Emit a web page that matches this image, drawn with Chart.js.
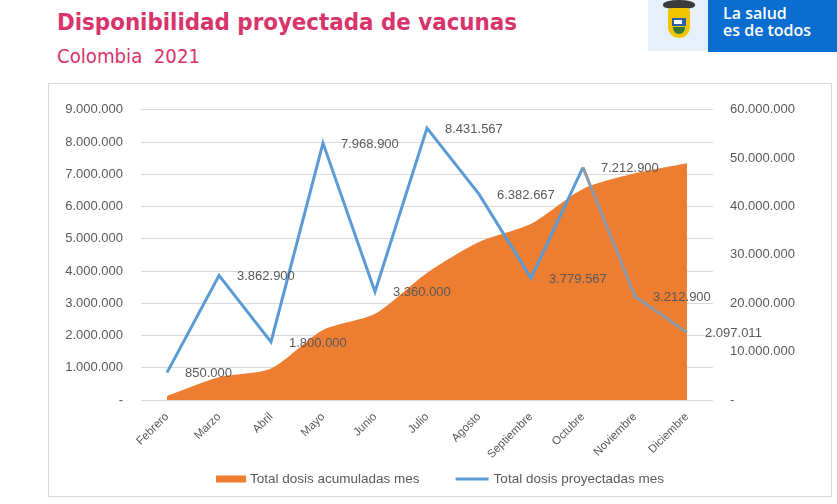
<!DOCTYPE html>
<html>
<head>
<meta charset="utf-8">
<script src="https://cdn.jsdelivr.net/npm/chart.js@4/dist/chart.umd.min.js"></script>
<style>
  html,body{margin:0;padding:0;background:#fff;width:837px;height:504px;overflow:hidden;}
  #title{position:absolute;left:57px;top:11px;line-height:23px;font-family:"Liberation Sans Narrow","DejaVu Sans Condensed","Liberation Sans",sans-serif;font-weight:bold;font-size:23px;color:#D8336A;white-space:nowrap;transform-origin:0 0;}
  #sub{position:absolute;left:57px;top:44px;font-family:"Liberation Sans Narrow","DejaVu Sans Condensed","Liberation Sans",sans-serif;font-size:20px;color:#D8336A;white-space:pre;transform-origin:0 0;}
  #emb{position:absolute;left:648px;top:0;width:60px;height:51px;background:#E6F0FA;}
  #shield{position:absolute;left:20px;top:8px;width:22px;height:30px;background:#F2C500;border-radius:4px 4px 11px 11px;}
  #shield .b{position:absolute;left:4px;top:10px;width:14px;height:8px;background:#2E5DA8;}
  #shield .r{position:absolute;left:6px;top:12px;width:8px;height:4px;background:#fff;}
  #shield .g{position:absolute;left:5px;top:19px;width:12px;height:7px;background:#2F7A3A;border-radius:0 0 6px 6px;}
  #bird{position:absolute;left:15px;top:0;width:32px;height:9px;background:#3b3b3b;border-radius:50% 50% 40% 40%;}
  #brand{position:absolute;left:708px;top:0;width:129px;height:52px;background:#0A6ED1;color:#fff;font-family:"Open Sans","Liberation Sans",sans-serif;font-weight:600;font-size:16px;line-height:17px;}
  #brand div{position:absolute;left:15px;top:5px;white-space:nowrap;}
  #box{position:absolute;left:48px;top:83px;width:782px;height:412px;border:1px solid #D9D9D9;}
  canvas{display:block;}
</style>
</head>
<body>
<div id="title">Disponibilidad proyectada de vacunas</div>
<div id="sub">Colombia  2021</div>
<div id="emb"><div id="bird"></div><div id="shield"><div class="b"></div><div class="r"></div><div class="g"></div></div></div>
<div id="brand"><div>La salud<br>es de todos</div></div>
<div id="box"><canvas id="c" width="782" height="412"></canvas></div>
<script>
const months = ["Febrero","Marzo","Abril","Mayo","Junio","Julio","Agosto","Septiembre","Octubre","Noviembre","Diciembre"];
const projectedMonthly = [850000, 3862900, 1800000, 7968900, 3360000, 8431567, 6382667, 3779567, 7212900, 3212900, 2097011];
const accumulated = [850000, 4712900, 6512900, 14481800, 17841800, 26273367, 32656034, 36435601, 43648501, 46861401, 48958412];
const leftTicks = [0, 1000000, 2000000, 3000000, 4000000, 5000000, 6000000, 7000000, 8000000, 9000000];
const rightTicks = [0, 10000000, 20000000, 30000000, 40000000, 50000000, 60000000];
const seriesNames = ["Total dosis acumuladas mes", "Total dosis proyectadas mes"];

(function fitText(){
  const t = document.getElementById('title');
  const w = t.getBoundingClientRect().width;
  t.style.transform = 'scaleX(' + (460 / w) + ')';
  const s = document.getElementById('sub');
  const ws = s.getBoundingClientRect().width;
  s.style.transform = 'scaleX(' + (143 / ws) + ')';
})();

function fmt(v){
  if (v === 0) return '-';
  return String(Math.round(v)).replace(/\B(?=(\d{3})+(?!\d))/g, '.');
}

const BLUE = '#5B9BD5', GRAYLINE = '#8E9AA8', ORANGE = '#ED7D31', TXT = '#595959';
const FONT = '"Liberation Sans", Arial, sans-serif';

const labelPlugin = {
  id: 'pointLabels',
  afterDatasetsDraw(chart){
    const meta = chart.getDatasetMeta(1);
    const ctx = chart.ctx;
    ctx.save();
    ctx.font = '13px ' + FONT;
    ctx.fillStyle = TXT;
    ctx.textAlign = 'left';
    ctx.textBaseline = 'middle';
    meta.data.forEach((pt, i) => {
      ctx.fillText(fmt(projectedMonthly[i]), pt.x + 18, pt.y + 1);
    });
    ctx.restore();
  }
};

const legendPlugin = {
  id: 'customLegend',
  afterDraw(chart){
    const ctx = chart.ctx;
    const ds = chart.data.datasets;
    ctx.save();
    ctx.font = '13.5px ' + FONT;
    ctx.textBaseline = 'middle';
    ctx.textAlign = 'left';
    const w1 = ctx.measureText(ds[0].label).width;
    const w2 = ctx.measureText(ds[1].label).width;
    const total = 30 + 4 + w1 + 36 + 33 + 5 + w2;
    let x = chart.width / 2 - total / 2;
    const y = chart.height - 17;
    ctx.fillStyle = ds[0].backgroundColor;
    ctx.fillRect(x, y - 3.5, 30, 7);
    x += 34;
    ctx.fillStyle = TXT;
    ctx.fillText(ds[0].label, x, y);
    x += w1 + 36;
    ctx.strokeStyle = ds[1].borderColor;
    ctx.lineWidth = 3;
    ctx.beginPath();
    ctx.moveTo(x, y);
    ctx.lineTo(x + 33, y);
    ctx.stroke();
    x += 38;
    ctx.fillText(ds[1].label, x, y);
    ctx.restore();
  }
};

new Chart(document.getElementById('c'), {
  type: 'line',
  data: {
    labels: months,
    datasets: [
      {
        label: seriesNames[0],
        data: accumulated,
        yAxisID: 'y1',
        fill: 'origin',
        backgroundColor: ORANGE,
        borderColor: ORANGE,
        borderWidth: 0,
        pointRadius: 0,
        tension: 0.25,
        order: 1
      },
      {
        label: seriesNames[1],
        data: projectedMonthly,
        yAxisID: 'y',
        fill: false,
        borderColor: BLUE,
        backgroundColor: BLUE,
        borderWidth: 3,
        pointRadius: 0,
        tension: 0,
        order: 0,
        segment: {
          borderColor: ctx => (ctx.p0DataIndex >= 8 ? GRAYLINE : BLUE)
        }
      }
    ]
  },
  options: {
    responsive: false,
    animation: false,
    events: [],
    layout: { padding: { top: 5, left: 0, right: 0, bottom: 35 } },
    plugins: {
      tooltip: { enabled: false },
      legend: { display: false }
    },
    scales: {
      x: {
        offset: true,
        grid: { display: false },
        border: { display: false },
        ticks: {
          color: TXT,
          font: { family: FONT, size: 11.5 },
          minRotation: 45,
          maxRotation: 45,
          padding: 2,
          autoSkip: false
        },
        afterFit: s => { s.height = 61; }
      },
      y: {
        position: 'left',
        min: 0,
        max: 9000000,
        afterBuildTicks: s => { s.ticks = leftTicks.map(v => ({ value: v })); },
        grid: { color: '#D9D9D9', lineWidth: 1, drawTicks: false },
        border: { display: false },
        ticks: {
          color: TXT,
          font: { family: FONT, size: 13 },
          padding: 18,
          callback: v => fmt(v)
        },
        afterFit: s => { s.width = 92; }
      },
      y1: {
        position: 'right',
        min: 0,
        max: 60000000,
        afterBuildTicks: s => { s.ticks = rightTicks.map(v => ({ value: v })); },
        grid: { display: false, drawTicks: false },
        border: { display: false },
        ticks: {
          color: TXT,
          font: { family: FONT, size: 13 },
          padding: 17,
          callback: v => fmt(v)
        },
        afterFit: s => { s.width = 118; }
      }
    }
  },
  plugins: [labelPlugin, legendPlugin]
});
</script>
</body>
</html>
